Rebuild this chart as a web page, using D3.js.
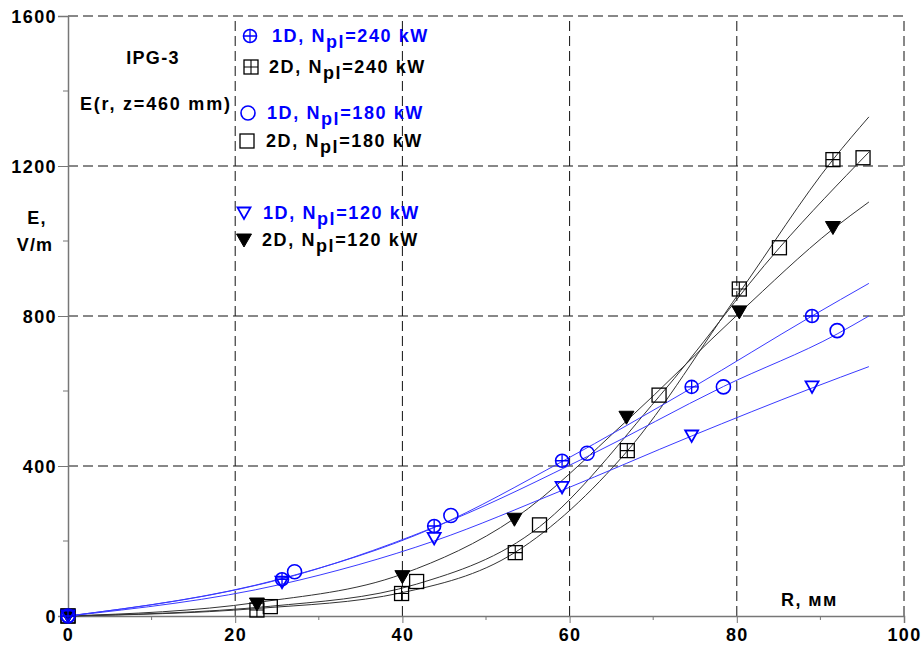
<!DOCTYPE html>
<html>
<head>
<meta charset="utf-8">
<script src="https://cdn.jsdelivr.net/npm/d3@7"></script>
<style>
  html, body { margin: 0; padding: 0; background: #fff; }
  svg text { font-family: "Liberation Sans", Arial, sans-serif; font-weight: bold; }
</style>
</head>
<body>
<svg id="chart" width="924" height="648"></svg>
<script>
// Measured points, E (V/m) versus R (mm), IPG-3 at z = 460 mm
const r1D240 = [0, 25.6, 43.8, 59.1, 74.6, 89.0];
const e1D240 = [0, 98, 240, 414, 611, 800];
const r1D180 = [0, 27.1, 45.8, 62.1, 78.4, 92.0];
const e1D180 = [0, 118, 268, 434, 611, 761];
const r1D120 = [0, 25.6, 43.8, 59.1, 74.6, 89.0];
const e1D120 = [0, 90, 207, 343, 480, 611];
const r2D240 = [0, 22.6, 39.9, 53.5, 66.9, 80.3, 91.5];
const e2D240 = [0, 16, 60, 169, 441, 872, 1217];
const r2D180 = [0, 24.2, 41.7, 56.4, 70.7, 85.1, 95.1];
const e2D180 = [0, 25, 92, 243, 589, 982, 1222];
const r2D120 = [0, 22.6, 40.0, 53.4, 66.8, 80.3, 91.5];
const e2D120 = [0, 32, 105, 258, 530, 811, 1036];

// Approximating curves (points along each fitted line)
const fitR1D240 = [0, 25.6, 43.8, 59.1, 74.6, 89.0, 95.8];
const fitE1D240 = [0, 100, 236, 412, 608, 800, 887];
const fitR1D180 = [0, 27.1, 45.8, 62.1, 78.4, 92.0, 95.8];
const fitE1D180 = [0, 108, 255, 425, 612, 752, 800];
const fitR1D120 = [0, 25.6, 43.8, 59.1, 74.6, 89.0, 95.8];
const fitE1D120 = [0, 85, 200, 335, 480, 608, 665];
const fitR2D240 = [0, 22.6, 39.9, 53.5, 66.9, 80.3, 91.5, 95.8];
const fitE2D240 = [0, 20, 62, 170, 440, 862, 1217, 1331];
const fitR2D180 = [0, 24.2, 41.7, 56.4, 70.7, 85.1, 95.8];
const fitE2D180 = [0, 26, 85, 238, 585, 982, 1237];
const fitR2D120 = [0, 22.6, 40.0, 53.4, 66.8, 80.3, 91.5, 95.8];
const fitE2D120 = [0, 36, 112, 260, 520, 808, 1032, 1104];

const xTicks = [0, 20, 40, 60, 80, 100];
const yTicks = [0, 400, 800, 1200, 1600];
const xMinor = [10, 30, 50, 70, 90];
const yMinor = [200, 600, 1000, 1400];

const legendLabels = [
  { id: "1D", n: "240" }, { id: "2D", n: "240" },
  { id: "1D", n: "180" }, { id: "2D", n: "180" },
  { id: "1D", n: "120" }, { id: "2D", n: "120" }
];

const BLUE = "#0000ff";
const LINE_BLUE = "#3a3aff";
const BLACK = "#000";
const LINE_BLACK = "#333";

const svg = d3.select("#chart");
const x = d3.scaleLinear().domain([0, 100]).range([68, 904]);
const y = d3.scaleLinear().domain([0, 1600]).range([616, 16]);

const zip = (a, b) => a.map((v, i) => [v, b[i]]);

// Dashed grid
const grid = svg.append("g").attr("stroke", "#111").attr("stroke-width", 1)
  .attr("stroke-dasharray", "10,5").attr("fill", "none");
grid.selectAll("line.v").data(xTicks.filter(d => d > 0)).join("line")
  .attr("x1", d => x(d)).attr("x2", d => x(d)).attr("y1", y(0)).attr("y2", y(1600));
grid.selectAll("line.h").data(yTicks.filter(d => d > 0)).join("line")
  .attr("x1", x(0)).attr("x2", x(100)).attr("y1", d => y(d)).attr("y2", d => y(d));

// Axes
const axisColor = "#777";
const yAxis = d3.axisLeft(y).tickValues(yTicks).tickSize(10).tickFormat(d3.format("d"));
const gy = svg.append("g").attr("transform", `translate(${x(0)},0)`).call(yAxis);
gy.select(".domain").attr("stroke", axisColor).attr("stroke-width", 1.5);
gy.selectAll(".tick line").attr("stroke", axisColor);
gy.selectAll(".tick text").attr("fill", "#000").attr("font-size", 18)
  .attr("letter-spacing", 1.4).attr("x", -11).attr("dy", "0.36em");
svg.append("g").selectAll("line").data(yMinor).join("line")
  .attr("x1", x(0) - 5).attr("x2", x(0)).attr("y1", d => y(d)).attr("y2", d => y(d))
  .attr("stroke", axisColor);

const xAxis = d3.axisBottom(x).tickValues(xTicks).tickSize(7).tickFormat(d3.format("d"));
const gx = svg.append("g").attr("transform", `translate(0,${y(0)})`).call(xAxis);
gx.select(".domain").attr("stroke", axisColor).attr("stroke-width", 1.5);
gx.selectAll(".tick line").attr("stroke", axisColor);
gx.selectAll(".tick text").attr("fill", "#000").attr("font-size", 18)
  .attr("letter-spacing", 1.4).attr("y", 12).attr("dy", "0.71em");
svg.append("g").selectAll("line").data(xMinor).join("line")
  .attr("x1", d => x(d)).attr("x2", d => x(d)).attr("y1", y(0)).attr("y2", y(0) + 4)
  .attr("stroke", axisColor);

// Axis titles
svg.append("text").attr("x", 37).attr("y", 224).attr("text-anchor", "middle")
  .attr("font-size", 18).attr("letter-spacing", 1.2).text("E,");
svg.append("text").attr("x", 35).attr("y", 251).attr("text-anchor", "middle")
  .attr("font-size", 18).attr("letter-spacing", 1.2).text("V/m");
svg.append("text").attr("x", 781).attr("y", 606)
  .attr("font-size", 18).attr("letter-spacing", 1.4).text("R, мм");

// Fitted curves
const line = d3.line().x(d => x(d[0])).y(d => y(d[1])).curve(d3.curveMonotoneX);
const fits = [
  { pts: zip(fitR2D240, fitE2D240), c: LINE_BLACK },
  { pts: zip(fitR2D180, fitE2D180), c: LINE_BLACK },
  { pts: zip(fitR2D120, fitE2D120), c: LINE_BLACK },
  { pts: zip(fitR1D240, fitE1D240), c: LINE_BLUE },
  { pts: zip(fitR1D180, fitE1D180), c: LINE_BLUE },
  { pts: zip(fitR1D120, fitE1D120), c: LINE_BLUE }
];
svg.append("g").selectAll("path").data(fits).join("path")
  .attr("d", d => line(d.pts)).attr("fill", "none")
  .attr("stroke", d => d.c).attr("stroke-width", 1);

// Marker shapes
function drawMarker(g, kind) {
  if (kind === "circlePlus") {
    g.append("circle").attr("r", 6.5).attr("fill", "none").attr("stroke", BLUE).attr("stroke-width", 1.6);
    g.append("path").attr("d", "M-6.5,0H6.5M0,-6.5V6.5").attr("stroke", BLUE).attr("stroke-width", 1.3);
  } else if (kind === "circle") {
    g.append("circle").attr("r", 7).attr("fill", "none").attr("stroke", BLUE).attr("stroke-width", 1.6);
  } else if (kind === "triOpen") {
    g.append("path").attr("d", "M-6.5,-5.5H6.5L0,6Z").attr("fill", "none")
      .attr("stroke", BLUE).attr("stroke-width", 1.8);
  } else if (kind === "squarePlus") {
    g.append("rect").attr("x", -7).attr("y", -7).attr("width", 14).attr("height", 14)
      .attr("fill", "none").attr("stroke", BLACK).attr("stroke-width", 1.3);
    g.append("path").attr("d", "M-7,0H7M0,-7V7").attr("stroke", BLACK).attr("stroke-width", 1.1);
  } else if (kind === "square") {
    g.append("rect").attr("x", -7).attr("y", -7).attr("width", 14).attr("height", 14)
      .attr("fill", "none").attr("stroke", BLACK).attr("stroke-width", 1.3);
  } else if (kind === "triFilled") {
    g.append("path").attr("d", "M-7.5,-6H7.5L0,7Z").attr("fill", BLACK).attr("stroke", BLACK);
  }
}

const series = [
  { r: r2D240, e: e2D240, kind: "squarePlus" },
  { r: r2D180, e: e2D180, kind: "square" },
  { r: r2D120, e: e2D120, kind: "triFilled" },
  { r: r1D240, e: e1D240, kind: "circlePlus" },
  { r: r1D180, e: e1D180, kind: "circle" },
  { r: r1D120, e: e1D120, kind: "triOpen" }
];
const markers = svg.append("g");
series.forEach(s => {
  zip(s.r, s.e).forEach(p => {
    const g = markers.append("g").attr("transform", `translate(${x(p[0])},${y(p[1])})`);
    drawMarker(g, s.kind);
  });
});

// Annotations
svg.append("text").attr("x", 153).attr("y", 64).attr("text-anchor", "middle")
  .attr("font-size", 18).attr("letter-spacing", 1.3).text("IPG-3");
svg.append("text").attr("x", 80).attr("y", 110)
  .attr("font-size", 18).attr("letter-spacing", 1.8).text("E(r, z=460 mm)");

// Legend
const legendPos = [
  { mx: 250, my: 36, tx: 272, kind: "circlePlus", col: BLUE },
  { mx: 251, my: 67, tx: 269, kind: "squarePlus", col: BLACK },
  { mx: 248, my: 113, tx: 267, kind: "circle", col: BLUE },
  { mx: 247, my: 141, tx: 266, kind: "square", col: BLACK },
  { mx: 244, my: 213, tx: 263, kind: "triOpen", col: BLUE },
  { mx: 244, my: 240, tx: 262, kind: "triFilled", col: BLACK }
];
legendPos.forEach((p, i) => {
  const g = svg.append("g").attr("transform", `translate(${p.mx},${p.my})`);
  drawMarker(g, p.kind);
  const lab = legendLabels[i];
  const t = svg.append("text").attr("x", p.tx).attr("y", p.my + 6)
    .attr("font-size", 18).attr("letter-spacing", 1.6).attr("fill", p.col);
  t.append("tspan").text(`${lab.id}, N`);
  t.append("tspan").attr("dy", 6).text("pl");
  t.append("tspan").attr("dy", -6).text(`=${lab.n} kW`);
});
</script>
</body>
</html>
